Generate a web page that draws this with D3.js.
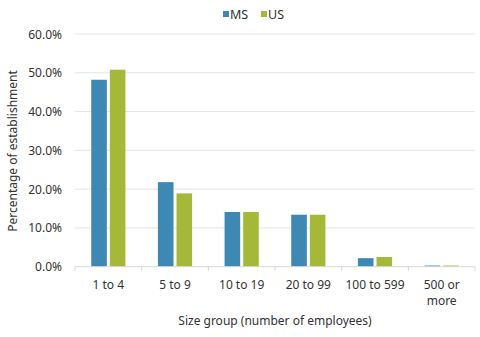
<!DOCTYPE html>
<html><head><meta charset="utf-8">
<script src="https://cdn.jsdelivr.net/npm/d3@7"></script>
<style>
html,body{margin:0;padding:0;background:#fff;}
svg{display:block;font-family:"Noto Sans", sans-serif;}
</style></head>
<body><svg id="c" width="480" height="337"></svg>
<script>
const categories = ["1 to 4","5 to 9","10 to 19","20 to 99","100 to 599","500 or\nmore"];
const seriesNames = ["MS","US"];
const msValues = [48.2, 21.8, 14.1, 13.4, 2.2, 0.3];
const usValues = [50.8, 18.9, 14.1, 13.4, 2.5, 0.3];
const yTicks = [0,10,20,30,40,50,60];
const colors = ["#3E88B4","#A6B83A"];

const svg = d3.select("#c");
const x0 = d3.scaleBand().domain(categories).range([75,475]).paddingInner(0).paddingOuter(0);
const y = d3.scaleLinear().domain([0,60]).range([266.7,34]);

// grid
svg.append("g").selectAll("line").data(yTicks.filter(d=>d>0)).join("line")
  .attr("x1",75).attr("x2",475).attr("y1",d=>y(d)).attr("y2",d=>y(d))
  .attr("stroke","#e4e4e4").attr("stroke-width",1);

// y labels
svg.append("g").selectAll("text").data(yTicks).join("text")
  .attr("x",62).attr("y",d=>y(d)+4.5).attr("text-anchor","end")
  .attr("font-size",12).attr("fill","#333").text(d=>d.toFixed(1)+"%");

// bars
const bw = 15.6, gap = 3;
const data = categories.map((c,i)=>({c, vals:[msValues[i],usValues[i]]}));
const g = svg.append("g");
data.forEach(d=>{
  const cx = x0(d.c)+x0.bandwidth()/2;
  d.vals.forEach((v,j)=>{
    const xs = j===0 ? cx - gap/2 - bw : cx + gap/2;
    g.append("rect").attr("x",xs).attr("y",y(v)).attr("width",bw)
      .attr("height",y(0)-y(v)).attr("fill",colors[j]);
  });
});

// x axis line and ticks
svg.append("line").attr("x1",75).attr("x2",475).attr("y1",266.7).attr("y2",266.7)
  .attr("stroke","#d9d9d9");
const bounds = categories.map(c=>x0(c)).concat([x0.range()[1]]);
svg.append("g").selectAll("line").data(bounds).join("line")
  .attr("x1",d=>d).attr("x2",d=>d).attr("y1",266.7).attr("y2",271)
  .attr("stroke","#d9d9d9");

// x labels
const xl = svg.append("g");
categories.forEach(c=>{
  const cx = x0(c)+x0.bandwidth()/2;
  const lines = c.split("\n");
  lines.forEach((t,k)=>{
    xl.append("text").attr("x",cx).attr("y",289+k*15.5).attr("text-anchor","middle")
      .attr("font-size",12).attr("fill","#333").text(t);
  });
});

// axis titles
svg.append("text").attr("x",275).attr("y",325).attr("text-anchor","middle")
  .attr("font-size",12).attr("fill","#333").text("Size group (number of employees)");
svg.append("text").attr("transform","translate(17,151) rotate(-90)")
  .attr("text-anchor","middle").attr("font-size",12).attr("fill","#333")
  .text("Percentage of establishment");

// legend
const leg = svg.append("g");
const lx = [223, 261];
seriesNames.forEach((s,i)=>{
  leg.append("rect").attr("x",lx[i]).attr("y",11).attr("width",6).attr("height",6).attr("fill",colors[i]);
  leg.append("text").attr("x",lx[i]+7).attr("y",19).attr("font-size",12.5).attr("fill","#333").text(s);
});
</script></body></html>
